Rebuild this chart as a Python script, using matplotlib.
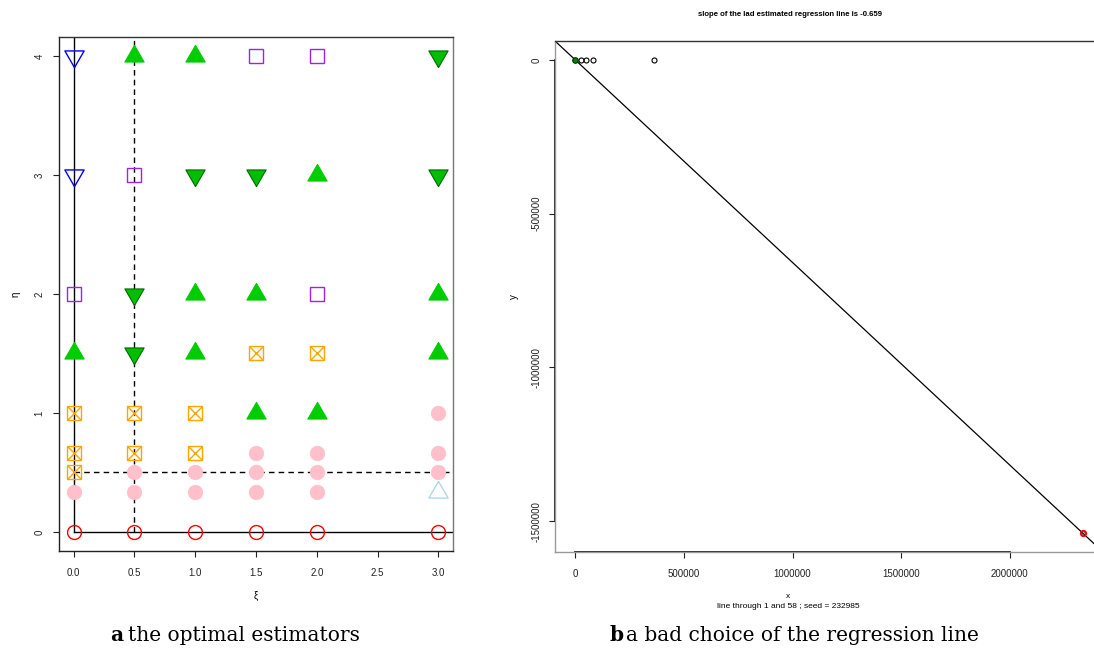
import numpy as np
import matplotlib.pyplot as plt
from matplotlib import transforms

plt.rcParams['font.family'] = ['Liberation Sans', 'DejaVu Sans']

# panel a: best estimator for every (xi, eta) pair
xi = [0, 0.5, 1, 1.5, 2, 3]
eta = [0, 1/3, 0.5, 2/3, 1, 1.5, 2, 3, 4]
# one row per eta value, one letter per xi value
best = ['oooooo',
        'pppppt',
        'xppppp',
        'xxxppp',
        'xxxuup',
        'uduxxu',
        'sduusu',
        'vsddud',
        'vuussd']

# panel b: simulated points (x, y), line through point 1 and point 58
x_pts = [0, 28000, 49000, 80000, 364000, 2336000]
y_pts = [0, 0, 0, 0, 0, -1539000]
slope_txt = -0.659

tri_up = [(0, 1.155), (-1, -0.577), (1, -0.577), (0, 1.155)]
tri_dn = [(x, -y) for x, y in tri_up]

styles = {
    'o': [dict(marker='o', ms=10, mfc='none', mec='red', mew=1)],
    'p': [dict(marker='o', ms=10.5, mfc='pink', mec='pink', mew=0.5)],
    'x': [dict(marker='s', ms=10.5, mfc='none', mec='orange', mew=1),
          dict(marker='x', ms=10.5, mec='orange', mew=1)],
    'u': [dict(marker=tri_up, ms=16, mfc='#00CD00', mec='#00CD00', mew=0.8)],
    'd': [dict(marker=tri_dn, ms=16, mfc='#00BF00', mec='#006A00', mew=0.8)],
    's': [dict(marker='s', ms=10.5, mfc='none', mec='#A020F0', mew=1)],
    'v': [dict(marker=tri_dn, ms=16, mfc='none', mec='blue', mew=1)],
    't': [dict(marker=tri_up, ms=16, mfc='none', mec='lightblue', mew=1)],
}

fig = plt.figure(figsize=(10.94, 6.55), dpi=100)
W, H = 1094, 655

# ---- panel a
ax1 = fig.add_axes([59 / W, 1 - 551 / H, 394 / W, 514 / H])
ax1.plot([0, 0], [0, 10], color='black', lw=1)
ax1.plot([0, 10], [0, 0], color='black', lw=1)
ax1.plot([0.5, 0.5], [0, 10], color='black', lw=1, ls=(0, (4, 3)))
ax1.plot([0, 10], [0.5, 0.5], color='black', lw=1, ls=(0, (4, 3)))
for j, e in enumerate(eta):
    for i, x in enumerate(xi):
        for st in styles[best[j][i]]:
            ax1.plot([x], [e], ls='none', **st)
ax1.set_xlim(-0.12, 3.12)
ax1.set_ylim(-0.16, 4.16)
ax1.set_xticks([0, 0.5, 1, 1.5, 2, 2.5, 3])
ax1.set_xticklabels(['0.0', '0.5', '1.0', '1.5', '2.0', '2.5', '3.0'])
ax1.set_yticks([0, 1, 2, 3, 4])
ax1.set_xlabel('ξ', fontsize=7, labelpad=9.5)
ax1.set_ylabel('η', fontsize=7, labelpad=10)
ax1.spines['right'].set_color('#777777')
ax1.tick_params(axis='x', pad=7.5)
ax1.tick_params(axis='y', pad=6)

# ---- panel b
xr = x_pts[-1] - x_pts[0]
yr = y_pts[0] - y_pts[-1]
xlo, xhi = x_pts[0] - 0.04 * xr, x_pts[-1] + 0.04 * xr
ylo, yhi = y_pts[-1] - 0.04 * yr, y_pts[0] + 0.04 * yr
ax2 = fig.add_axes([555 / W, 1 - 552 / H, 548 / W, 511 / H])
ax2.plot(x_pts[1:-1], y_pts[1:-1], ls='none', marker='o', ms=3.6,
         mfc='none', mec='black', mew=0.8)
ax2.axline((x_pts[0], y_pts[0]), (x_pts[-1], y_pts[-1]), color='black', lw=0.9)
ax2.plot([x_pts[0]], [y_pts[0]], ls='none', marker='o', ms=4, mfc='green',
         mec='#003300', mew=0.8)
ax2.plot([x_pts[-1]], [y_pts[-1]], ls='none', marker='o', ms=4, mfc='none',
         mec='red', mew=1.2)
ax2.plot([x_pts[-1]], [y_pts[-1]], ls='none', marker='o', ms=2.5, mfc='none',
         mec='#552222', mew=0.6)
ax2.set_xlim(xlo, xhi)
ax2.set_ylim(ylo, yhi)
ax2.set_xticks([0, 500000, 1000000, 1500000, 2000000])
ax2.set_xticklabels(['0', '500000', '1000000', '1500000', '2000000'])
ax2.set_yticks([0, -500000, -1000000, -1500000])
ax2.set_yticklabels(['0', '-500000', '-1000000', '-1500000'])
ax2.set_ylabel('y', fontsize=7, labelpad=9)
for s in ('left', 'bottom'):
    ax2.spines[s].set_color('#999999')
ax2.spines['right'].set_visible(False)
# axis lines drawn only over the tick range
trx = transforms.blended_transform_factory(ax2.transData, ax2.transAxes)
ax2.plot([0, 2000000], [0, 0], color='black', lw=1.2, transform=trx,
         clip_on=False)
try_ = transforms.blended_transform_factory(ax2.transAxes, ax2.transData)
ax2.plot([0, 0], [-1500000, 0], color='black', lw=1.2, transform=try_,
         clip_on=False)
ax2.tick_params(axis='x', pad=7.5)
ax2.tick_params(axis='y', pad=5)

for ax in (ax1, ax2):
    ax.tick_params(direction='out', length=4.5, width=0.8, labelsize=7,
                   colors='#222222')
    ax.tick_params(axis='y', labelrotation=90)
    for lab in ax.get_yticklabels():
        lab.set_va('center')
    for s in ('top',):
        ax.spines[s].set_color('#333333')
    for s in ax.spines.values():
        s.set_linewidth(1)
ax1.spines['left'].set_color('#222222')
ax1.spines['bottom'].set_color('#222222')

fig.text(790 / W, 1 - 15 / H, 'slope of the lad estimated regression line is %.3f' % slope_txt,
         ha='center', va='center', fontsize=5.6, fontweight='bold')
fig.text(788 / W, 1 - 597 / H, 'x', ha='center', va='center', fontsize=6)
fig.text(788 / W, 1 - 607 / H, 'line through 1 and 58 ; seed = 232985',
         ha='center', va='center', fontsize=6)

# captions
cap = dict(fontsize=14.5, family='DejaVu Serif', va='baseline')
fig.text(110 / W, 14 / H, 'a', fontweight='bold', **cap)
fig.text(128 / W, 14 / H, 'the optimal estimators', **cap)
fig.text(610 / W, 14 / H, 'b', fontweight='bold', **cap)
fig.text(626 / W, 14 / H, 'a bad choice of the regression line', **cap)

fig.savefig('out.png', dpi=100)
